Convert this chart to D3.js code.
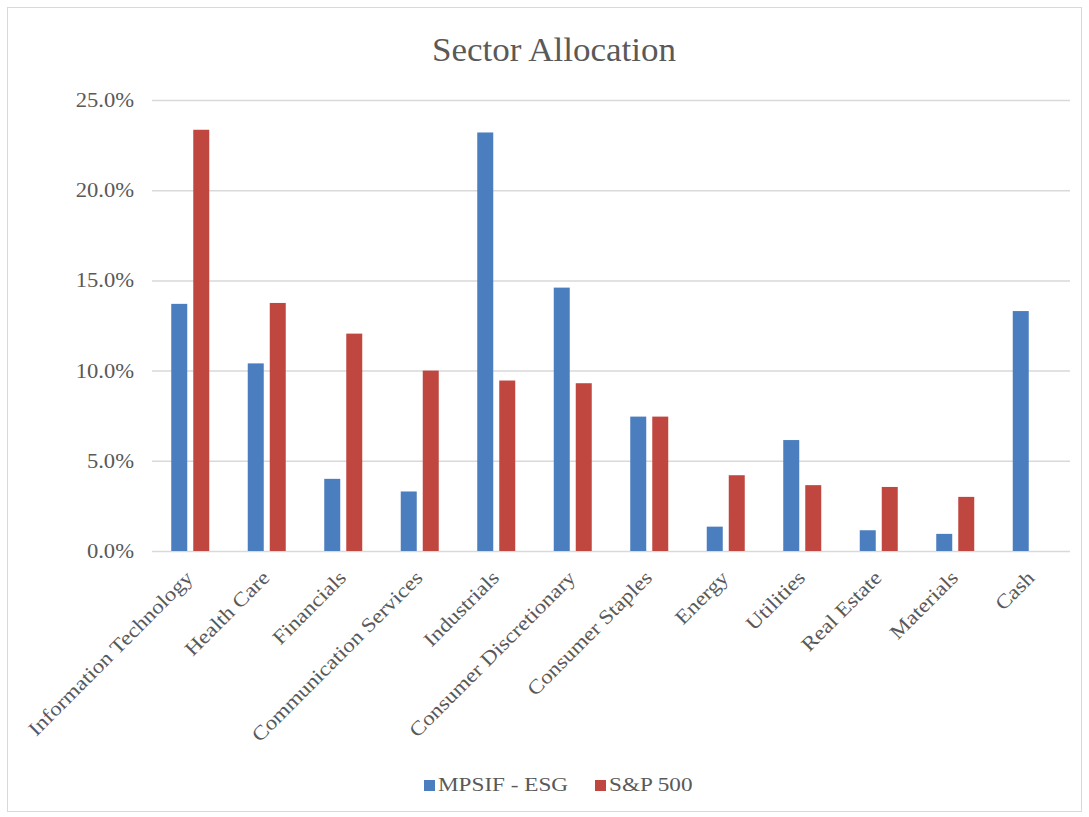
<!DOCTYPE html>
<html>
<head>
<meta charset="utf-8">
<script src="https://cdn.jsdelivr.net/npm/d3@7"></script>
<style>
  body { margin: 0; background: #fff; }
  svg { display: block; }
</style>
</head>
<body>
<svg id="chart"></svg>
<script>
// data
var sectors = ["Information Technology", "Health Care", "Financials", "Communication Services",
               "Industrials", "Consumer Discretionary", "Consumer Staples", "Energy",
               "Utilities", "Real Estate", "Materials", "Cash"];
var esgValues = [13.7, 10.4, 4.0, 3.3, 23.2, 14.6, 7.45, 1.35, 6.15, 1.15, 0.95, 13.3];
var spValues  = [23.35, 13.75, 12.05, 10.0, 9.45, 9.3, 7.45, 4.2, 3.65, 3.55, 3.0, 0];
var seriesNames = ["MPSIF - ESG", "S&P 500"];
var yTicks = [0, 5, 10, 15, 20, 25];

var colors = ["#4a7ebf", "#c0473f"];
var textColor = "#595959";
var font = "'Liberation Serif', 'Times New Roman', serif";

var dimensions = {
    width: 1089,
    height: 817,
    margin: { top: 100, bottom: 266, right: 19, left: 152 }
};

var rows = sectors.map(function(s, i){
    return { sector: s, values: [esgValues[i], spValues[i]] };
});

// the source picture is a bit wider than normal type, so stretch text along its baseline
function stretch(sel, k) {
    sel.each(function(){
        var len = this.getComputedTextLength();
        d3.select(this)
          .attr("textLength", len * k)
          .attr("lengthAdjust", "spacingAndGlyphs");
    });
}

var svg = d3.select("#chart")
            .attr("width", dimensions.width)
            .attr("height", dimensions.height)
            .style("font-family", font);

// chart area frame
svg.append("rect")
   .attr("x", 7.5).attr("y", 7.5)
   .attr("width", 1074).attr("height", 804)
   .attr("fill", "#fff")
   .attr("stroke", "#d9d9d9")
   .attr("stroke-width", 1);

var xScale = d3.scaleBand()
               .domain(sectors)
               .range([dimensions.margin.left, dimensions.width - dimensions.margin.right])
               .padding(0);

var xInner = d3.scaleBand()
               .domain([0, 1])
               .range([0, xScale.bandwidth()])
               .paddingInner(0.273)
               .paddingOuter(0.875);

var yScale = d3.scaleLinear()
               .domain([0, 25])
               .range([dimensions.height - dimensions.margin.bottom, dimensions.margin.top]);

// gridlines + y labels
var yAxisGen = d3.axisLeft(yScale)
                 .tickValues(yTicks)
                 .tickSize(-(dimensions.width - dimensions.margin.left - dimensions.margin.right))
                 .tickPadding(18)
                 .tickFormat(function(d){ return d3.format(".1f")(d) + "%"; });

var yAxis = svg.append("g")
               .attr("transform", "translate(" + dimensions.margin.left + ",0)")
               .call(yAxisGen);
yAxis.select(".domain").remove();
yAxis.selectAll("line").attr("stroke", "#d9d9d9").attr("stroke-width", 1.5);
yAxis.selectAll("text")
     .attr("fill", textColor)
     .style("font-size", "20px")
     .style("font-family", font)
     .call(stretch, 1.13);

// bars
var groups = svg.append("g")
                .selectAll("g")
                .data(rows)
                .enter()
                .append("g")
                .attr("transform", function(d){ return "translate(" + xScale(d.sector) + ",0)"; });

groups.selectAll("rect")
      .data(function(d){ return d.values; })
      .enter()
      .append("rect")
      .attr("x", function(d, i){ return xInner(i); })
      .attr("y", function(d){ return yScale(d); })
      .attr("width", xInner.bandwidth())
      .attr("height", function(d){ return yScale(0) - yScale(d); })
      .attr("fill", function(d, i){ return colors[i]; });

// x labels, rotated
var xAxisGen = d3.axisBottom(xScale).tickSize(0).tickPadding(0);
var xAxis = svg.append("g")
               .attr("transform", "translate(0," + (dimensions.height - dimensions.margin.bottom) + ")")
               .call(xAxisGen);
xAxis.select(".domain").remove();
xAxis.selectAll("text")
     .attr("fill", textColor)
     .style("font-size", "20px")
     .style("font-family", font)
     .attr("text-anchor", "end")
     .attr("dy", null)
     .attr("y", 0)
     .attr("transform", "translate(4,28) rotate(-45)")
     .call(stretch, 1.15);

// title
svg.append("text")
   .attr("x", 554)
   .attr("y", 61)
   .attr("text-anchor", "middle")
   .attr("fill", textColor)
   .style("font-size", "34px")
   .text("Sector Allocation")
   .call(stretch, 1.03);

// legend
var legend = svg.append("g").attr("transform", "translate(424,791)");
var legendX = [0, 171];
seriesNames.forEach(function(name, i){
    legend.append("rect")
          .attr("x", legendX[i]).attr("y", -11)
          .attr("width", 11).attr("height", 11)
          .attr("fill", colors[i]);
    legend.append("text")
          .attr("x", legendX[i] + 14).attr("y", 0)
          .attr("fill", textColor)
          .style("font-size", "19px")
          .text(name)
          .call(stretch, 1.22);
});
</script>
</body>
</html>
